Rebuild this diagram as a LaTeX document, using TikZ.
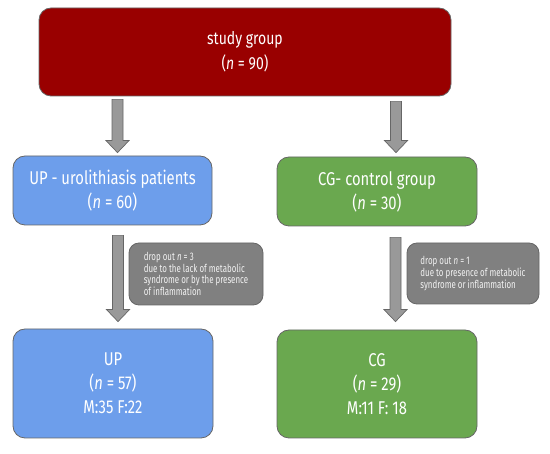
\documentclass[tikz,border=0pt]{standalone}
\usepackage{fontspec}
\setmainfont{Fira Sans}[FakeStretch=0.8]
\newfontfamily\dropfont{Fira Sans}[FakeStretch=0.72]
\usetikzlibrary{calc}
\definecolor{topred}{HTML}{990000}
\definecolor{upblue}{HTML}{6D9EEB}
\definecolor{cggreen}{HTML}{6AA84F}
\definecolor{dropgray}{HTML}{808080}
\definecolor{arrgray}{HTML}{999999}
\definecolor{edgegray}{HTML}{666666}
\definecolor{droptext}{HTML}{F2F2F2}
\newcommand\fatarr[2]{\draw[arrowst] ($(#1)+(-5.5,0)$) -- ($(#1)+(5.5,0)$) -- ($(#2)+(5.5,-12)$) -- ($(#2)+(11.5,-12)$) -- (#2) -- ($(#2)+(-11.5,-12)$) -- ($(#2)+(-5.5,-12)$) -- cycle;}
\begin{document}
\begin{tikzpicture}[x=1pt,y=-1pt,
  box/.style={draw=edgegray, line width=0.8pt, rounded corners=12pt, text=white, align=center, inner sep=0pt},
  bigtext/.style={font=\fontsize{18.5}{24}\selectfont},
  droptbox/.style={draw=edgegray, line width=0.8pt, fill=dropgray, rounded corners=10pt, text=droptext, align=left, inner sep=0pt, font=\dropfont\fontsize{11}{10.6}\selectfont},
  arrowst/.style={draw=edgegray, line width=0.7pt, fill=arrgray, line join=miter}]
\useasboundingbox (0,0) rectangle (550,454);
\node[box, fill=topred, minimum width=412pt, minimum height=88pt, font=\fontsize{17.5}{25}\selectfont] (top) at (245,52) {study group\\(\textit{n} = 90)};
\node[box, fill=upblue, minimum width=199pt, minimum height=69pt, bigtext] (up) at (112.5,190.5) {UP - urolithiasis patients\\(\textit{n} = 60)};
\node[box, fill=cggreen, minimum width=200pt, minimum height=69pt, bigtext] (cg) at (377,191.5) {CG- control group\\(\textit{n} = 30)};
\node[box, fill=upblue, minimum width=200pt, minimum height=109pt, bigtext] (upf) at (113,383.5) {UP\\(\textit{n} = 57)\\M:35 F:22};
\node[box, fill=cggreen, minimum width=200pt, minimum height=108pt, bigtext] (cgf) at (377,384) {CG\\(\textit{n} = 29)\\M:11 F: 18};
\node[droptbox, minimum width=134pt, minimum height=62pt] (dropl) at (196,274) {drop out \textit{n} = 3\\due to the lack of metabolic\\syndrome or by the presence\\of inflammation};
\node[droptbox, minimum width=132pt, minimum height=61pt] (dropr) at (473,273.5) {drop out \textit{n} = 1\\due to presence of metabolic\\syndrome or inflammation};
\coordinate (a1s) at ($(top.south -| up.north)+(5,3)$);
\coordinate (a1e) at ($(up.north)+(5,-3)$);
\coordinate (a2s) at ($(top.south -| cg.north)+(19,5)$);
\coordinate (a2e) at ($(cg.north)+(19,-4)$);
\coordinate (a3s) at ($(up.south)+(5.5,10)$);
\coordinate (a3e) at ($(upf.north)+(5,-7)$);
\coordinate (a4s) at ($(cg.south)+(18.5,11)$);
\coordinate (a4e) at ($(cgf.north)+(18.5,-8)$);
\fatarr{a1s}{a1e}
\fatarr{a2s}{a2e}
\fatarr{a3s}{a3e}
\fatarr{a4s}{a4e}
\end{tikzpicture}
\end{document}
